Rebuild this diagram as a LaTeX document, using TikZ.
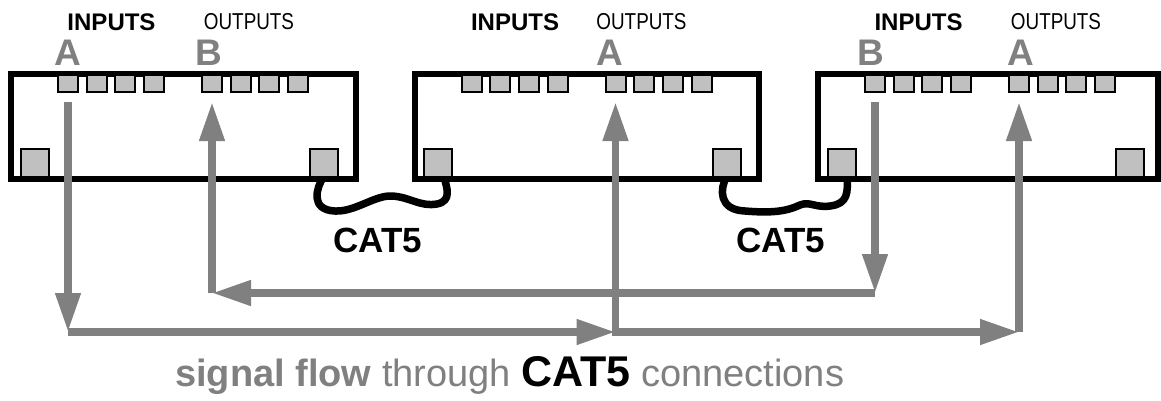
\documentclass[tikz,border=0pt]{standalone}
\usepackage{fontspec}
\setmainfont{Liberation Sans}
\newfontfamily\narrowfont[FakeStretch=0.82]{Liberation Sans}
\usetikzlibrary{arrows.meta}
\definecolor{flowgray}{HTML}{808080}
\definecolor{portgray}{HTML}{C0C0C0}
\begin{document}
\begin{tikzpicture}[x=1pt,y=-1pt,
  unit/.style={draw=black,line width=6pt,fill=white,inner sep=0pt,outer sep=0pt,minimum height=104.5pt},
  port/.style={draw=black,line width=2pt,fill=portgray,inner sep=0pt,outer sep=0pt,minimum width=20pt,minimum height=17pt},
  jack/.style={draw=black,line width=2pt,fill=portgray,inner sep=0pt,outer sep=0pt,minimum size=28pt},
  cable/.style={draw=black,line width=7.5pt,line cap=round,line join=round},
  flow/.style={draw=flowgray,line width=7.5pt,-{Triangle[length=39pt,width=24pt]}},
  inlabel/.style={font=\fontsize{24}{24}\selectfont\bfseries,anchor=base,inner sep=0pt},
  outlabel/.style={font=\narrowfont\fontsize{23}{23}\selectfont,anchor=base,inner sep=0pt},
  letter/.style={font=\fontsize{37}{37}\selectfont\bfseries,text=flowgray,anchor=base,inner sep=0pt},
  catlabel/.style={font=\fontsize{35}{35}\selectfont\bfseries,anchor=base,inner sep=0pt},
]
\useasboundingbox (0,0) rectangle (1161,400);
% units
\node[unit,minimum width=345pt] (u1) at (183.5,126.25) {};
\node[unit,minimum width=344.5pt] (u2) at (586.75,126.25) {};
\node[unit,minimum width=340pt] (u3) at (988,126.25) {};
% cables (under the jacks)
\draw[cable] (323.5,177) coordinate (c1s) .. controls (316,188) and (310,210) .. (335,211)
  .. controls (355,212) and (375,195) .. (392,196)
  .. controls (410,197) and (420,207) .. (437,204)
  .. controls (452,201) and (447,188) .. (444,177) coordinate (c1e);
\draw[cable] (726.5,177) coordinate (c2s) .. controls (720,188) and (718,210) .. (745,211)
  .. controls (770,213) and (785,212) .. (800,205)
  .. controls (810,201) and (815,208) .. (830,206)
  .. controls (848,204) and (848,192) .. (847,177) coordinate (c2e);
% ports
\foreach \u/\xl in {1/11, 2/414.5, 3/818} {
  \foreach \k in {1,...,4} {
    \node[port] (u\u i\k) at ({\xl+57+(\k-1)*28.7},83.5) {};
    \node[port] (u\u o\k) at ({\xl+201+(\k-1)*28.7},83.5) {};
  }
}
\node[jack] (u1L) at (35,163) {};
\node[jack] (u1R) at (323.5,163) {};
\node[jack] (u2L) at (438,163) {};
\node[jack] (u2R) at (726.5,163) {};
\node[jack] (u3L) at (842,163) {};
\node[jack] (u3R) at (1130,163) {};
% signal flow
\coordinate (aL) at (68,332);
\coordinate (aM) at (615.5,332);
\coordinate (aR) at (1019,332);
\coordinate (bR) at (875,293);
\coordinate (bL) at (212,293);
\draw[flow] ([yshift=-10pt]u1i1.south) -- (aL);
\draw[flow] (aL) -- (aM);
\draw[flow] ([yshift=-3.75pt]aM) -- ([yshift=-10pt]u2o1.south);
\draw[flow] (aM) -- (aR);
\draw[flow] (aR) -- ([yshift=-10pt]u3o1.south);
\draw[flow] ([yshift=-10pt]u3i1.south) -- (bR);
\draw[flow] (bR) -- (bL);
\draw[flow] (bL) -- ([yshift=-10pt]u1o1.south);
% labels
\node[inlabel] (in1) at (111.5,30) {INPUTS};
\node[outlabel] (out1) at (249,29) {OUTPUTS};
\node[inlabel] (in2) at (515,30) {INPUTS};
\node[outlabel] (out2) at (641.5,29) {OUTPUTS};
\node[inlabel] (in3) at (918.5,30) {INPUTS};
\node[outlabel] (out3) at (1056,29) {OUTPUTS};
\node[letter] (la1) at (67.5,65) {A};
\node[letter] (lb1) at (209,65) {B};
\node[letter] (la2) at (610,65) {A};
\node[letter] (lb3) at (871,65) {B};
\node[letter] (la3) at (1021,65) {A};
\node[catlabel] (cat1) at (378,252) {CAT5};
\node[catlabel] (cat2) at (781,252) {CAT5};
\node[anchor=base west,inner sep=0pt,text=flowgray,font=\fontsize{38}{38}\selectfont] (caption) at (175,386)
  {\textbf{signal flow} through {\color{black}\fontsize{43}{43}\selectfont\bfseries CAT5} connections};
\end{tikzpicture}
\end{document}
